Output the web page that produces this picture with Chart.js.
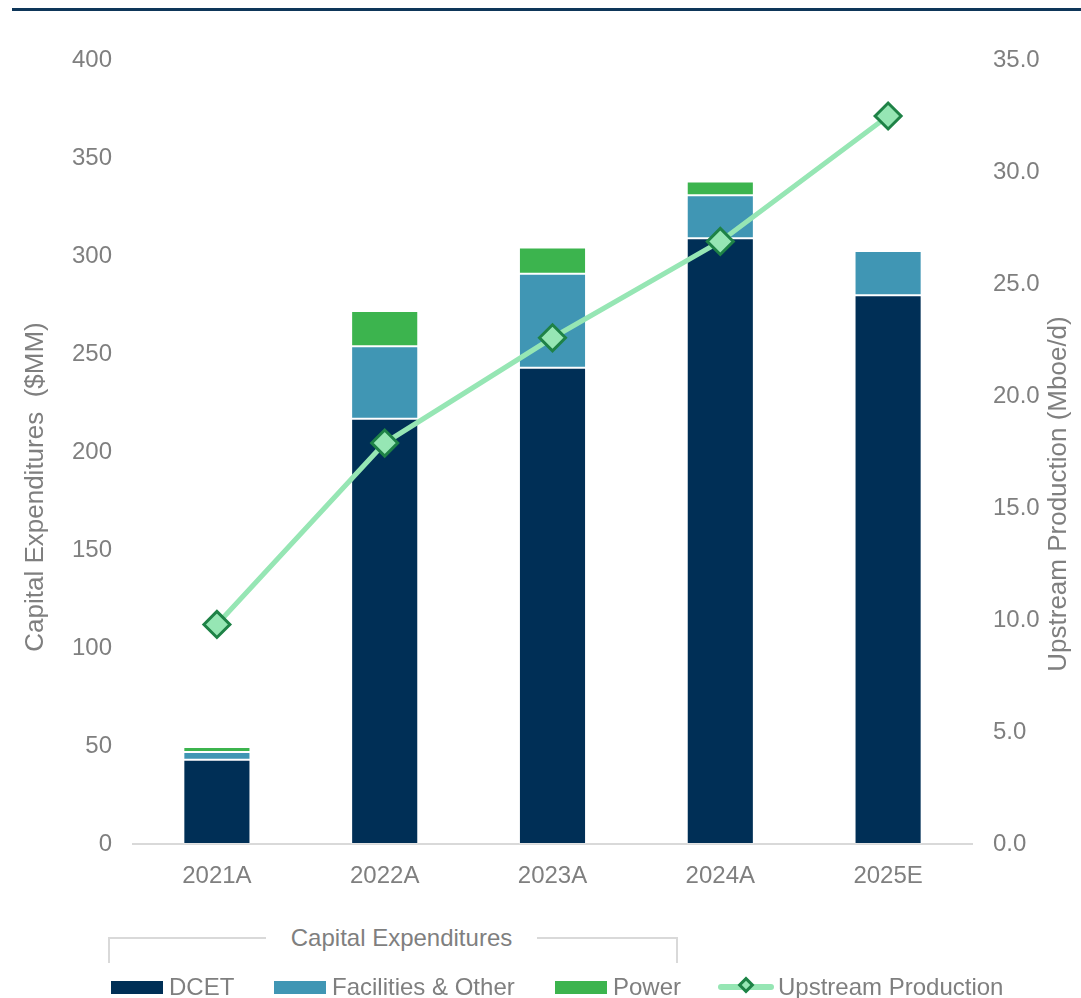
<!DOCTYPE html>
<html>
<head>
<meta charset="utf-8">
<script src="https://cdn.jsdelivr.net/npm/chart.js@4/dist/chart.umd.min.js"></script>
<style>
  body { margin: 0; background: #fff; font-family: "Liberation Sans", Arial, sans-serif; }
  #wrap { position: relative; width: 1081px; height: 998px; overflow: hidden; }
  #topline { position: absolute; left: 12px; right: 0; top: 8px; height: 3px; background: #0e3659; }
  #chart { position: absolute; left: 0; top: 0; }
  #legend { position: absolute; left: 0; top: 0; width: 1081px; height: 998px; pointer-events: none; color: #7f7f7f; font-size: 24px; }
  .bracket { position: absolute; left: 108px; top: 937px; width: 570px; height: 26px; border: 2px solid #d9d9d9; border-bottom: none; box-sizing: border-box; }
  .group-title { position: absolute; left: 266px; width: 271px; top: 924px; text-align: center; background: #fff; line-height: 28px; }
  .item { position: absolute; top: 972px; height: 30px; line-height: 30px; white-space: nowrap; }
  .swatch { position: absolute; top: 9px; width: 52px; height: 13px; }
  .linekey { position: absolute; top: 12px; width: 56px; height: 6px; border-radius: 3px; }
  .diamond { position: absolute; top: 7px; width: 12px; height: 12px; transform: rotate(45deg); box-sizing: border-box; }
</style>
</head>
<body>
<div id="wrap">
  <div id="topline"></div>
  <canvas id="chart" width="1081" height="998"></canvas>
  <div id="legend"></div>
</div>
<script>
const categories = ["2021A", "2022A", "2023A", "2024A", "2025E"];
const dcet = [43, 217, 243, 309, 280];
const facilities = [4, 37, 48, 22, 22.5];
const power = [2.5, 18, 13.3, 7, null];
const production = [9.8, 17.9, 22.6, 26.9, 32.5];

const leftTicks = { min: 0, max: 400, step: 50 };
const rightTicks = { min: 0, max: 35, step: 5 };
const leftTitle = "Capital Expenditures  ($MM)";
const rightTitle = "Upstream Production (Mboe/d)";

const grey = "#7f7f7f";
const fontFamily = "'Liberation Sans', Arial, sans-serif";

Chart.defaults.font.family = fontFamily;
Chart.defaults.color = grey;

function barSet(label, data, color) {
  return {
    type: "bar",
    label: label,
    data: data,
    backgroundColor: color,
    borderColor: "rgba(255,255,255,0.25)",
    borderWidth: 1,
    borderSkipped: false,
    barPercentage: 0.4,
    categoryPercentage: 1,
    yAxisID: "y",
    stack: "capex",
    order: 1
  };
}

const datasets = [
  barSet("DCET", dcet, "#002f56"),
  barSet("Facilities & Other", facilities, "#4096b4"),
  barSet("Power", power, "#3cb44e"),
  {
    type: "line",
    label: "Upstream Production",
    data: production,
    borderColor: "#96e6b4",
    borderWidth: 5,
    tension: 0,
    pointStyle: "rectRot",
    pointRadius: 13,
    pointBorderWidth: 3,
    pointBackgroundColor: "#96e6b4",
    pointBorderColor: "#1e8246",
    yAxisID: "y1",
    order: 0
  }
];

// both axis titles read bottom-to-top, so they are drawn here instead of by the scales
const axisTitles = {
  id: "axisTitles",
  afterDraw(chart) {
    const ctx = chart.ctx;
    ctx.save();
    ctx.font = "26px " + fontFamily;
    ctx.fillStyle = grey;
    ctx.textAlign = "center";
    ctx.textBaseline = "middle";
    [[36, 487, leftTitle], [1059, 494, rightTitle]].forEach(([x, y, text]) => {
      ctx.save();
      ctx.translate(x, y);
      ctx.rotate(-Math.PI / 2);
      ctx.fillText(text, 0, 0);
      ctx.restore();
    });
    ctx.restore();
  }
};

const chart = new Chart(document.getElementById("chart").getContext("2d"), {
  data: { labels: categories, datasets: datasets },
  plugins: [axisTitles],
  options: {
    responsive: false,
    animation: false,
    layout: { padding: { top: 60, bottom: 0, left: 0, right: 0 } },
    plugins: { legend: { display: false }, tooltip: { enabled: false } },
    scales: {
      x: {
        stacked: true,
        grid: { display: false, drawTicks: false },
        border: { display: true, color: "#d9d9d9", width: 2 },
        ticks: { padding: 18, font: { size: 24 }, color: grey },
        afterFit: (scale) => { scale.height = 154; }
      },
      y: {
        position: "left",
        stacked: true,
        min: leftTicks.min,
        max: leftTicks.max,
        grid: { display: false, drawTicks: false },
        border: { display: false },
        ticks: { stepSize: leftTicks.step, padding: 21, font: { size: 24 }, color: grey },
        afterFit: (scale) => { scale.width = 133; }
      },
      y1: {
        position: "right",
        min: rightTicks.min,
        max: rightTicks.max,
        grid: { display: false, drawTicks: false },
        border: { display: false },
        ticks: {
          stepSize: rightTicks.step,
          padding: 21,
          font: { size: 24 },
          color: grey,
          callback: (v) => v.toFixed(1)
        },
        afterFit: (scale) => { scale.width = 109; }
      }
    }
  }
});

// legend below the plot, built from the dataset styles
const legend = document.getElementById("legend");
legend.innerHTML =
  '<div class="bracket"></div><div class="group-title">Capital Expenditures</div>';

const itemX = [111, 274, 555, 718];
datasets.forEach((ds, i) => {
  const item = document.createElement("div");
  item.className = "item";
  item.style.left = itemX[i] + "px";
  let key;
  if (ds.type === "bar") {
    key = '<span class="swatch" style="left:0;background:' + ds.backgroundColor + '"></span>';
    item.innerHTML = key + '<span style="margin-left:58px">' + ds.label + "</span>";
  } else {
    key = '<span class="linekey" style="left:0;background:' + ds.borderColor + '"></span>' +
      '<span class="diamond" style="left:22px;background:' + ds.pointBackgroundColor +
      ";border:3px solid " + ds.pointBorderColor + '"></span>';
    item.innerHTML = key + '<span style="margin-left:60px">' + ds.label + "</span>";
  }
  legend.appendChild(item);
});
</script>
</body>
</html>
